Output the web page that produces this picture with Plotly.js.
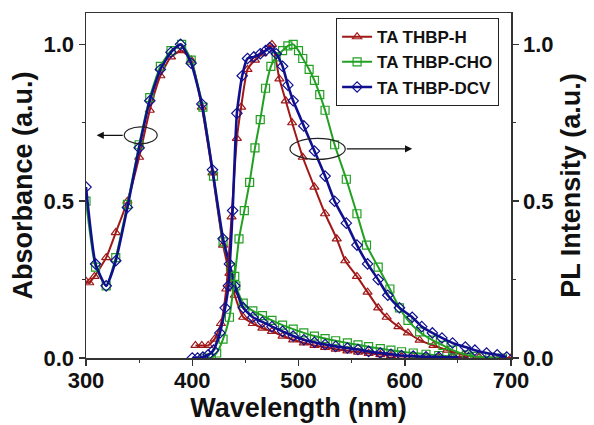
<!DOCTYPE html>
<html>
<head>
<meta charset="utf-8">
<script src="https://cdn.plot.ly/plotly-3.0.1.min.js"></script>
<style>html,body{margin:0;padding:0;background:#fff;}#chart{width:594px;height:425px;}</style>
</head>
<body>
<div id="chart"></div>
<script>
// Series names
const seriesNames = ['TA THBP-H', 'TA THBP-CHO', 'TA THBP-DCV'];

// Absorbance (left axis)
const absH_x = [300,303,308,319,328,339,350,360,370,380,390,399,409,419,429,435,440,448,457,466,475,485,495,505,515,525,535,546,556,566,577,587,597,608,620,632,645];
const absH_y = [0.245,0.24,0.26,0.32,0.40,0.50,0.64,0.79,0.90,0.96,0.98,0.95,0.80,0.59,0.36,0.27,0.20,0.13,0.11,0.095,0.085,0.07,0.058,0.048,0.04,0.034,0.028,0.023,0.019,0.015,0.011,0.008,0.006,0.004,0.003,0.002,0.001];

const absCHO_x = [300,309,319,328,339,350,360,370,380,390,399,410,420,429,436,441,448,457,466,475,485,495,505,515,525,535,546,556,566,577,587,597,608,620,632,645,660];
const absCHO_y = [0.50,0.29,0.23,0.32,0.49,0.68,0.83,0.93,0.98,1.0,0.95,0.80,0.58,0.37,0.29,0.23,0.175,0.15,0.135,0.12,0.105,0.092,0.08,0.07,0.062,0.055,0.048,0.042,0.036,0.03,0.025,0.02,0.016,0.012,0.008,0.005,0.002];

const absDCV_x = [300,309,319,328,339,350,360,370,380,389,399,409,419,429,435,440,448,457,466,475,485,495,505,515,525,535,546,556,566,577,587,597,608,620,632,645,660];
const absDCV_y = [0.545,0.30,0.23,0.31,0.48,0.67,0.82,0.92,0.975,1.0,0.94,0.81,0.60,0.38,0.30,0.23,0.16,0.13,0.115,0.10,0.085,0.07,0.058,0.05,0.043,0.037,0.032,0.027,0.021,0.016,0.012,0.008,0.006,0.004,0.003,0.002,0.001];

// PL intensity (right axis)
const plH_x = [403,409,415,421,427,432,437,442,446,452,459,466,475,482,488,494,504,515,525,536,544,555,565,575,583,594,603,614,627,640,655,670,685,700];
const plH_y = [0.04,0.04,0.04,0.06,0.11,0.22,0.45,0.70,0.80,0.92,0.95,0.97,1.0,0.89,0.82,0.75,0.64,0.545,0.46,0.38,0.31,0.26,0.21,0.16,0.13,0.10,0.08,0.057,0.04,0.025,0.01,0.003,0.001,0.0];

const plCHO_x = [412,418,423,429,435,440,444,449,454,459,464,469,474,479,485,490,495,500,504,510,515,520,525,534,545,555,564,575,586,595,603,614,626,636,645,658,667,680,692];
const plCHO_y = [0.0,0.0,0.016,0.06,0.13,0.26,0.38,0.47,0.56,0.67,0.76,0.86,0.93,0.96,0.98,0.995,1.0,0.98,0.955,0.92,0.885,0.84,0.79,0.68,0.57,0.46,0.36,0.29,0.22,0.16,0.12,0.083,0.057,0.04,0.025,0.01,0.005,0.002,0.0];

const plDCV_x = [400,405,410,415,420,426,431,434,438,442,447,452,458,464,469,473,479,485,490,495,505,515,525,534,545,555,565,575,584,595,607,616,626,635,645,657,666,677,687,696];
const plDCV_y = [0.0,0.0,0.003,0.01,0.025,0.08,0.16,0.23,0.47,0.78,0.90,0.955,0.96,0.97,0.98,0.99,0.97,0.93,0.87,0.82,0.74,0.66,0.58,0.50,0.43,0.36,0.30,0.25,0.20,0.16,0.13,0.10,0.08,0.064,0.048,0.035,0.025,0.016,0.01,0.003];

// Axis ticks
const xTicks = [300,400,500,600,700];
const yTicks = [0.0,0.5,1.0];

const colors = ['#a01818', '#22a022', '#10108f'];
const symbols = ['triangle-up-open', 'square-open', 'diamond-open'];
const widths = [2, 2, 2.6];

const absX = [absH_x, absCHO_x, absDCV_x], absY = [absH_y, absCHO_y, absDCV_y];
const plX = [plH_x, plCHO_x, plDCV_x], plY = [plH_y, plCHO_y, plDCV_y];

const traces = [];
for (let i = 0; i < 3; i++) {
  traces.push({
    x: absX[i], y: absY[i], type: 'scatter', mode: 'lines+markers',
    name: seriesNames[i], legendgroup: 'g' + i, showlegend: false,
    line: {color: colors[i], width: widths[i], shape: 'spline', smoothing: 0.5},
    marker: {symbol: symbols[i], size: 8, color: colors[i], line: {width: 1.2}},
    xaxis: 'x', yaxis: 'y'
  });
}
for (let i = 0; i < 3; i++) {
  traces.push({
    x: plX[i], y: plY[i], type: 'scatter', mode: 'lines+markers',
    name: seriesNames[i], legendgroup: 'g' + i, showlegend: true,
    line: {color: colors[i], width: widths[i], shape: 'spline', smoothing: 0.5},
    marker: {symbol: symbols[i], size: 8, color: colors[i], line: {width: 1.2}},
    xaxis: 'x', yaxis: 'y2'
  });
}

const FONT = 'Liberation Sans, Arial, sans-serif';
const tickFont = {family: FONT, size: 22, color: '#111', weight: 'bold'};
const titleFont = {family: FONT, size: 27, color: '#111', weight: 'bold'};

// decorations (arrows + ellipses) in data units
const leftEllipse = {x0: 336, x1: 367, y0: 0.683, y1: 0.737};
const rightEllipse = {x0: 492, x1: 544, y0: 0.633, y1: 0.70};
const leftArrow = {from: 336, to: 310, y: 0.71};
const rightArrow = {from: 544, to: 607, y: 0.667};

const layout = {
  width: 594, height: 425,
  margin: {l: 86, r: 83, t: 13, b: 67},
  paper_bgcolor: '#fff', plot_bgcolor: '#fff',
  showlegend: true,
  legend: {
    x: 0.972, y: 0.985, xanchor: 'right', yanchor: 'top',
    bgcolor: '#fff', bordercolor: '#222', borderwidth: 1,
    font: {family: FONT, size: 17, color: '#111', weight: 'bold'},
    itemwidth: 30, tracegroupgap: 0
  },
  xaxis: {
    range: [300, 700], tickvals: xTicks, ticks: 'outside', ticklen: 6, tickwidth: 1.5,
    tickcolor: '#333', showline: true, linecolor: '#333', linewidth: 1.5, mirror: true,
    showgrid: false, zeroline: false, tickfont: tickFont, ticklabelstandoff: -4,
    minor: {dtick: 50, ticks: 'outside', ticklen: 3, tickwidth: 1.2, tickcolor: '#333', showgrid: false},
    title: {text: 'Wavelength (nm)', font: titleFont, standoff: 0}
  },
  yaxis: {
    range: [0, 1.1], tickvals: yTicks, tickformat: '.1f', ticks: 'outside', ticklen: 6, tickwidth: 1.5,
    tickcolor: '#333', showline: true, linecolor: '#333', linewidth: 1.5, mirror: false,
    showgrid: false, zeroline: false, tickfont: tickFont,
    minor: {tickvals: [0.25, 0.75], ticks: 'outside', ticklen: 3, tickwidth: 1.2, tickcolor: '#333', showgrid: false},
    title: {text: 'Absorbance (a.u.)', font: titleFont, standoff: 3}
  },
  yaxis2: {
    overlaying: 'y', side: 'right',
    range: [0, 1.1], tickvals: yTicks, tickformat: '.1f', ticks: 'outside', ticklen: 6, tickwidth: 1.5,
    tickcolor: '#333', showline: true, linecolor: '#333', linewidth: 1.5,
    showgrid: false, zeroline: false, tickfont: tickFont,
    minor: {tickvals: [0.25, 0.75], ticks: 'outside', ticklen: 3, tickwidth: 1.2, tickcolor: '#333', showgrid: false},
    title: {text: 'PL Intensity (a.u.)', font: titleFont, standoff: 8}
  },
  shapes: [
    Object.assign({type: 'circle', xref: 'x', yref: 'y', line: {color: '#222', width: 1.2}}, leftEllipse),
    Object.assign({type: 'circle', xref: 'x', yref: 'y', line: {color: '#222', width: 1.2}}, rightEllipse)
  ],
  annotations: [
    {x: leftArrow.to, y: leftArrow.y, ax: leftArrow.from, ay: leftArrow.y, xref: 'x', yref: 'y', axref: 'x', ayref: 'y',
     text: '', showarrow: true, arrowhead: 2, arrowsize: 1.2, arrowwidth: 1.2, arrowcolor: '#111'},
    {x: rightArrow.to, y: rightArrow.y, ax: rightArrow.from, ay: rightArrow.y, xref: 'x', yref: 'y', axref: 'x', ayref: 'y',
     text: '', showarrow: true, arrowhead: 2, arrowsize: 1.2, arrowwidth: 1.2, arrowcolor: '#111'}
  ]
};

Plotly.newPlot('chart', traces, layout, {displayModeBar: false, staticPlot: true});
</script>
</body>
</html>
